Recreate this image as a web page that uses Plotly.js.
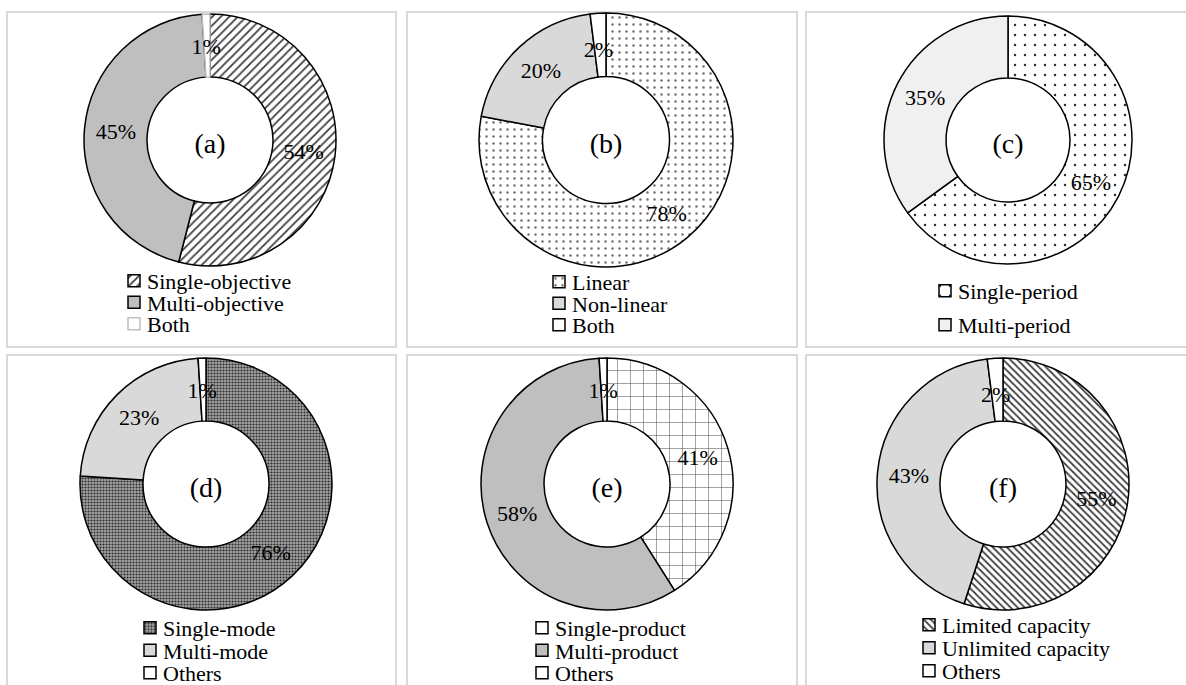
<!DOCTYPE html>
<html><head><meta charset="utf-8">
<script src="https://cdn.plot.ly/plotly-3.0.1.min.js"></script>
<style>html,body{margin:0;padding:0;background:#fff;} #chart{width:1186px;height:685px;}</style>
</head><body><div id="chart"></div>
<script>
// ---- data ----
const labelsA = ['Single-objective', 'Multi-objective', 'Both'];
const valuesA = [54, 45, 1];
const labelsB = ['Linear', 'Non-linear', 'Both'];
const valuesB = [78, 20, 2];
const labelsC = ['Single-period', 'Multi-period'];
const valuesC = [65, 35];
const labelsD = ['Single-mode', 'Multi-mode', 'Others'];
const valuesD = [76, 23, 1];
const labelsE = ['Single-product', 'Multi-product', 'Others'];
const valuesE = [41, 58, 1];
const labelsF = ['Limited capacity', 'Unlimited capacity', 'Others'];
const valuesF = [55, 43, 2];
const panelTags = ['(a)', '(b)', '(c)', '(d)', '(e)', '(f)'];

// ---- layout / style ----
const W = 1186, H = 685;
const FONT = '"Liberation Serif", "Times New Roman", serif';
const panels = [
  {labels: labelsA, values: valuesA, cx: 210, cy: 140, r: 126, legX: 147, legY: 260, sp: 21.5,
   colors: ['#ffffff', '#bfbfbf', '#ffffff'], lines: ['#000', '#000', '#bfbfbf'],
   pat: {shape: ['/', '', ''], fgcolor: ['#404040', '#000', '#000'], bgcolor: ['#ffffff', '#bfbfbf', '#ffffff'], size: [6, 8, 8], solidity: [0.3, 0.3, 0.3]}},
  {labels: labelsB, values: valuesB, cx: 606, cy: 140, r: 127, legX: 572, legY: 261, sp: 21.5,
   colors: ['#ffffff', '#d9d9d9', '#ffffff'], lines: ['#000', '#000', '#000'],
   pat: {shape: ['.', '', ''], fgcolor: ['#707070', '#000', '#000'], bgcolor: ['#ffffff', '#d9d9d9', '#ffffff'], size: [7, 8, 8], solidity: [0.1, 0.3, 0.3]}},
  {labels: labelsC, values: valuesC, cx: 1008, cy: 140, r: 124, legX: 958, legY: 270, sp: 34,
   colors: ['#ffffff', '#f0f0f0'], lines: ['#000', '#000'],
   pat: {shape: ['.', ''], fgcolor: ['#303030', '#000'], bgcolor: ['#ffffff', '#f0f0f0'], size: [10, 8], solidity: [0.05, 0.3]}},
  {labels: labelsD, values: valuesD, cx: 206, cy: 484, r: 126, legX: 163, legY: 607, sp: 22.5,
   colors: ['#a4a4a4', '#d9d9d9', '#ffffff'], lines: ['#000', '#000', '#000'],
   pat: {shape: ['.', '', ''], fgcolor: ['#2a2a2a', '#000', '#000'], bgcolor: ['#a4a4a4', '#d9d9d9', '#ffffff'], size: [3, 8, 8], solidity: [0.4, 0.3, 0.3]}},
  {labels: labelsE, values: valuesE, cx: 607, cy: 484, r: 126, legX: 555, legY: 607, sp: 22.5,
   colors: ['#ffffff', '#bfbfbf', '#ffffff'], lines: ['#000', '#000', '#000'],
   pat: {shape: ['+', '', ''], fgcolor: ['#505050', '#000', '#000'], bgcolor: ['#ffffff', '#bfbfbf', '#ffffff'], size: [13, 8, 8], solidity: [0.08, 0.3, 0.3]}},
  {labels: labelsF, values: valuesF, cx: 1003, cy: 484, r: 126, legX: 942, legY: 604, sp: 23,
   colors: ['#ffffff', '#d9d9d9', '#ffffff'], lines: ['#000', '#000', '#000'],
   pat: {shape: ['\\', '', ''], fgcolor: ['#404040', '#000', '#000'], bgcolor: ['#ffffff', '#d9d9d9', '#ffffff'], size: [5, 8, 8], solidity: [0.35, 0.3, 0.3]}}
];
const boxes = [
  [7, 12, 396, 347], [407, 12, 797, 347], [806, 12, 1192, 347],
  [7, 355, 396, 692], [407, 355, 797, 692], [806, 355, 1192, 692]
];
// small slices get their label pushed toward the middle of the ring
const pctTpl = '%{percent:.0%}';
const smallTpl = '\u00a0<br>\u00a0<br>%{percent:.0%}';

const data = panels.map((p, i) => ({
  type: 'pie',
  labels: p.labels,
  values: p.values,
  sort: false,
  direction: 'clockwise',
  rotation: 0,
  hole: 0.5,
  domain: {x: [(p.cx - p.r) / W, (p.cx + p.r) / W], y: [1 - (p.cy + p.r) / H, 1 - (p.cy - p.r) / H]},
  marker: {colors: p.colors, line: {color: p.lines, width: 1.5}, pattern: p.pat},
  texttemplate: p.values.map(v => v < 5 ? smallTpl : pctTpl),
  textposition: 'inside',
  insidetextorientation: 'horizontal',
  textfont: {family: FONT, size: 22, color: '#000'},
  title: {text: panelTags[i], position: 'middle center', font: {family: FONT, size: 28, color: '#000'}},
  legend: i === 0 ? 'legend' : 'legend' + (i + 1),
  legendgroup: 'panel' + i,
  showlegend: true,
  hoverinfo: 'none'
}));

const layout = {
  width: W, height: H,
  margin: {l: 0, r: 0, t: 0, b: 0, autoexpand: false},
  paper_bgcolor: '#ffffff',
  font: {family: FONT, color: '#000'},
  uniformtext: {mode: 'show', minsize: 22},
  shapes: boxes.map(b => ({type: 'rect', xref: 'paper', yref: 'paper',
    x0: b[0] / W, x1: b[2] / W, y0: 1 - b[3] / H, y1: 1 - b[1] / H,
    line: {color: '#d9d9d9', width: 2}, fillcolor: 'rgba(0,0,0,0)', layer: 'below'}))
};
panels.forEach((p, i) => {
  const key = i === 0 ? 'legend' : 'legend' + (i + 1);
  layout[key] = {x: (p.legX - 40) / W, y: 1 - p.legY / H, xanchor: 'left', yanchor: 'top',
    bgcolor: 'rgba(0,0,0,0)', borderwidth: 0, font: {family: FONT, size: 22, color: '#000'},
    traceorder: 'normal', maxheight: 400};
});

Plotly.newPlot('chart', data, layout, {staticPlot: true}).then(gd => {
  panels.forEach((p, i) => {
    const cls = i === 0 ? 'legend' : 'legend' + (i + 1);
    const lg = gd.querySelector('.infolayer g.' + cls);
    if (!lg) return;
    const items = lg.querySelectorAll('g.traces');
    let y0 = null;
    items.forEach((it, k) => {
      const m = /translate\(([-\d.]+)[ ,]+([-\d.]+)\)/.exec(it.getAttribute('transform') || '');
      if (!m) return;
      if (y0 === null) { y0 = +m[2]; }
      it.setAttribute('transform', 'translate(' + m[1] + ',' + (y0 + k * p.sp) + ')');
    });
    lg.querySelectorAll('g.legendsymbols').forEach(s => s.setAttribute('transform', 'translate(7,0)'));
  });
});
</script>
</body></html>
